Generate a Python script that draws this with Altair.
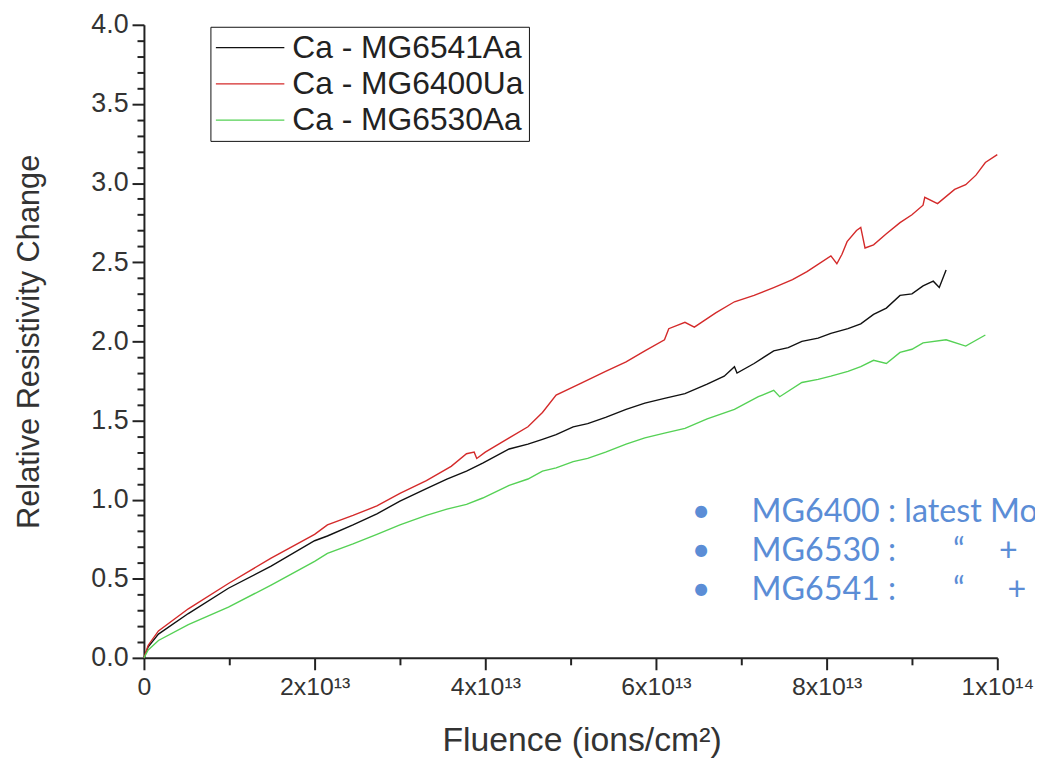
import altair as alt
import pandas as pd

# Fluence in units of 1e13 ions/cm^2, relative resistivity change
x_6541 = [0, 0.05, 0.17, 0.52, 0.99, 1.49, 2.0, 2.15, 2.45, 2.73, 3.0, 3.31, 3.55, 3.78, 3.97,
          4.28, 4.5, 4.67, 4.83, 5.03, 5.2, 5.41, 5.65, 5.87, 6.1, 6.34, 6.6, 6.8, 6.92, 6.95,
          7.15, 7.38, 7.55, 7.71, 7.9, 8.05, 8.25, 8.4, 8.55, 8.7, 8.86, 9.0, 9.13, 9.25, 9.32, 9.4]
y_6541 = [0, 0.07, 0.15, 0.28, 0.44, 0.58, 0.74, 0.77, 0.84, 0.91, 0.99, 1.07, 1.13, 1.18, 1.23,
          1.32, 1.35, 1.38, 1.41, 1.46, 1.48, 1.52, 1.57, 1.61, 1.64, 1.67, 1.73, 1.78, 1.84, 1.80,
          1.86, 1.94, 1.96, 2.00, 2.02, 2.05, 2.08, 2.11, 2.17, 2.21, 2.29, 2.30, 2.35, 2.38, 2.34, 2.45]

x_6400 = [0, 0.05, 0.17, 0.52, 0.99, 1.49, 2.0, 2.15, 2.45, 2.73, 3.0, 3.31, 3.6, 3.78, 3.87,
          3.9, 4.0, 4.28, 4.5, 4.67, 4.83, 5.1, 5.41, 5.65, 5.87, 6.1, 6.15, 6.34, 6.45, 6.7,
          6.92, 7.15, 7.38, 7.6, 7.77, 8.05, 8.12, 8.18, 8.24, 8.35, 8.4, 8.45, 8.55, 8.7, 8.86,
          9.0, 9.13, 9.15, 9.3, 9.5, 9.63, 9.75, 9.86, 10.0]
y_6400 = [0, 0.08, 0.17, 0.31, 0.47, 0.63, 0.78, 0.84, 0.90, 0.96, 1.04, 1.12, 1.21, 1.29, 1.30,
          1.26, 1.30, 1.39, 1.46, 1.55, 1.66, 1.73, 1.81, 1.87, 1.94, 2.01, 2.08, 2.12, 2.09, 2.18,
          2.25, 2.29, 2.34, 2.39, 2.44, 2.54, 2.49, 2.55, 2.63, 2.70, 2.72, 2.59, 2.61, 2.68, 2.75,
          2.80, 2.86, 2.91, 2.87, 2.96, 2.99, 3.05, 3.13, 3.18]

x_6530 = [0, 0.05, 0.17, 0.52, 0.99, 1.49, 2.0, 2.15, 2.45, 2.73, 3.0, 3.31, 3.55, 3.78, 3.97,
          4.28, 4.5, 4.67, 4.83, 5.03, 5.2, 5.41, 5.65, 5.87, 6.1, 6.34, 6.6, 6.92, 7.2, 7.38,
          7.45, 7.71, 7.9, 8.05, 8.25, 8.4, 8.55, 8.7, 8.86, 9.0, 9.13, 9.4, 9.63, 9.86]
y_6530 = [0, 0.05, 0.11, 0.21, 0.32, 0.46, 0.61, 0.66, 0.72, 0.78, 0.84, 0.90, 0.94, 0.97, 1.01,
          1.09, 1.13, 1.18, 1.20, 1.24, 1.26, 1.30, 1.35, 1.39, 1.42, 1.45, 1.51, 1.57, 1.65, 1.69,
          1.65, 1.74, 1.76, 1.78, 1.81, 1.84, 1.88, 1.86, 1.93, 1.95, 1.99, 2.01, 1.97, 2.04]

series_names = ["Ca - MG6541Aa", "Ca - MG6400Ua", "Ca - MG6530Aa"]
series_colors = ["#111111", "#d42a2a", "#55d155"]

x_major = [0, 2e13, 4e13, 6e13, 8e13, 1e14]
x_minor = [1e13, 3e13, 5e13, 7e13, 9e13]
y_major = [0.0, 0.5, 1.0, 1.5, 2.0, 2.5, 3.0, 3.5, 4.0]
y_minor = [0.1, 0.2, 0.3, 0.4, 0.6, 0.7, 0.8, 0.9, 1.1, 1.2, 1.3, 1.4, 1.6, 1.7, 1.8, 1.9,
           2.1, 2.2, 2.3, 2.4, 2.6, 2.7, 2.8, 2.9, 3.1, 3.2, 3.3, 3.4, 3.6, 3.7, 3.8, 3.9]

note_bullet_x = 6.42e13
note_text_x = 7.12e13
note_lines = ["MG6400 : latest Mo", "MG6530 :", "MG6541 :"]
note_y = [0.86, 0.61, 0.365]
quote_x = [9.55e13, 9.55e13]
plus_x = [10.13e13, 10.23e13]

rows = []
for name, xs, ys in zip(series_names, [x_6541, x_6400, x_6530], [y_6541, y_6400, y_6530]):
    for i, (a, b) in enumerate(zip(xs, ys)):
        rows.append({"series": name, "fluence": a * 1e13, "value": b, "order": i})
df = pd.DataFrame(rows)

note_df = pd.DataFrame(
    [{"x": note_bullet_x, "y": yy, "t": "•"} for yy in note_y]
    + [{"x": note_text_x, "y": yy, "t": tt} for yy, tt in zip(note_y, note_lines)]
)
sym_df = pd.DataFrame(
    [{"x": qx, "y": yy, "t": "\u201c"} for qx, yy in zip(quote_x, note_y[1:])]
    + [{"x": px, "y": yy, "t": "+"} for px, yy in zip(plus_x, note_y[1:])]
)

xscale = alt.Scale(domain=[0, 1e14], nice=False)
yscale = alt.Scale(domain=[0, 4], nice=False)

label_expr = ("datum.value == 0 ? '0' : (datum.value >= 1e14 ? '1x10\u00b9\u2074' : "
              "format(datum.value / 1e13, 'd') + 'x10\u00b9\u00b3')")

x_axis = alt.Axis(values=x_major, labelExpr=label_expr, orient="bottom", tickSize=12, tickWidth=2,
                  domainWidth=2, domainColor="#222222", tickColor="#222222", labelColor="#333333",
                  labelFont="Liberation Sans", labelFontSize=25, labelPadding=5, grid=False,
                  labelFlush=False,
                  title="Fluence (ions/cm²)", titleFont="Liberation Sans", titleFontSize=34,
                  titleFontWeight="normal", titleColor="#333333", titlePadding=24,
                  titleX=441, titleAlign="center", labelOverlap=False)
y_axis = alt.Axis(values=y_major, format=".1f", orient="left", tickSize=12, tickWidth=2,
                  domainWidth=2, domainColor="#222222", tickColor="#222222", labelColor="#333333",
                  labelFont="Liberation Sans", labelFontSize=27, labelPadding=4, grid=False,
                  labelFlush=False,
                  title="Relative Resistivity Change", titleFont="Liberation Sans", titleFontSize=31,
                  titleFontWeight="normal", titleColor="#333333", titlePadding=46,
                  labelOverlap=False)
x_minor_axis = alt.Axis(values=x_minor, orient="bottom", tickSize=7, tickWidth=2, tickColor="#222222",
                        domain=False, labels=False, grid=False, title=None)
y_minor_axis = alt.Axis(values=y_minor, orient="left", tickSize=7, tickWidth=2, tickColor="#222222",
                        domain=False, labels=False, grid=False, title=None)

lines = alt.Chart(df).mark_line(strokeWidth=1.4).encode(
    x=alt.X("fluence:Q", scale=xscale, axis=x_axis),
    y=alt.Y("value:Q", scale=yscale, axis=y_axis),
    color=alt.Color("series:N",
                    scale=alt.Scale(domain=series_names, range=series_colors),
                    legend=alt.Legend(title=None, orient="none", legendX=67, legendY=2,
                                      direction="vertical",
                                      symbolType="M0,0H6", symbolSize=529, symbolStrokeWidth=1.3,
                                      symbolOffset=-15.5, labelOffset=61,
                                      labelFont="Liberation Sans", labelFontSize=32,
                                      labelColor="#222222", rowPadding=4.5, padding=5,
                                      strokeColor="#111111", fillColor="#ffffff",
                                      labelLimit=400)),
    order="order:Q",
)

minor = alt.Chart(df).mark_line(opacity=0).encode(
    x=alt.X("fluence:Q", scale=xscale, axis=x_minor_axis),
    y=alt.Y("value:Q", scale=yscale, axis=y_minor_axis),
    detail="series:N",
)

notes = alt.Chart(note_df).mark_text(align="left", baseline="alphabetic", font="Lato",
                                     fontSize=32.5, color="#5B8DD6").encode(
    x=alt.X("x:Q", scale=xscale, axis=None),
    y=alt.Y("y:Q", scale=yscale, axis=None),
    text="t:N",
)
syms = alt.Chart(sym_df).mark_text(align="center", baseline="alphabetic", font="Lato",
                                   fontSize=32.5, color="#5B8DD6").encode(
    x=alt.X("x:Q", scale=xscale, axis=None),
    y=alt.Y("y:Q", scale=yscale, axis=None),
    text="t:N",
)

chart = alt.layer(lines, minor, notes, syms).resolve_axis(
    x="independent", y="independent"
).properties(
    width=860, height=638,
    autosize=alt.AutoSizeParams(type="none"),
    padding={"left": 137, "top": 14, "right": 38, "bottom": 100},
    background="#ffffff",
).configure_view(stroke=None)

chart.save("out.html", embed_options={"renderer": "svg", "actions": False})
